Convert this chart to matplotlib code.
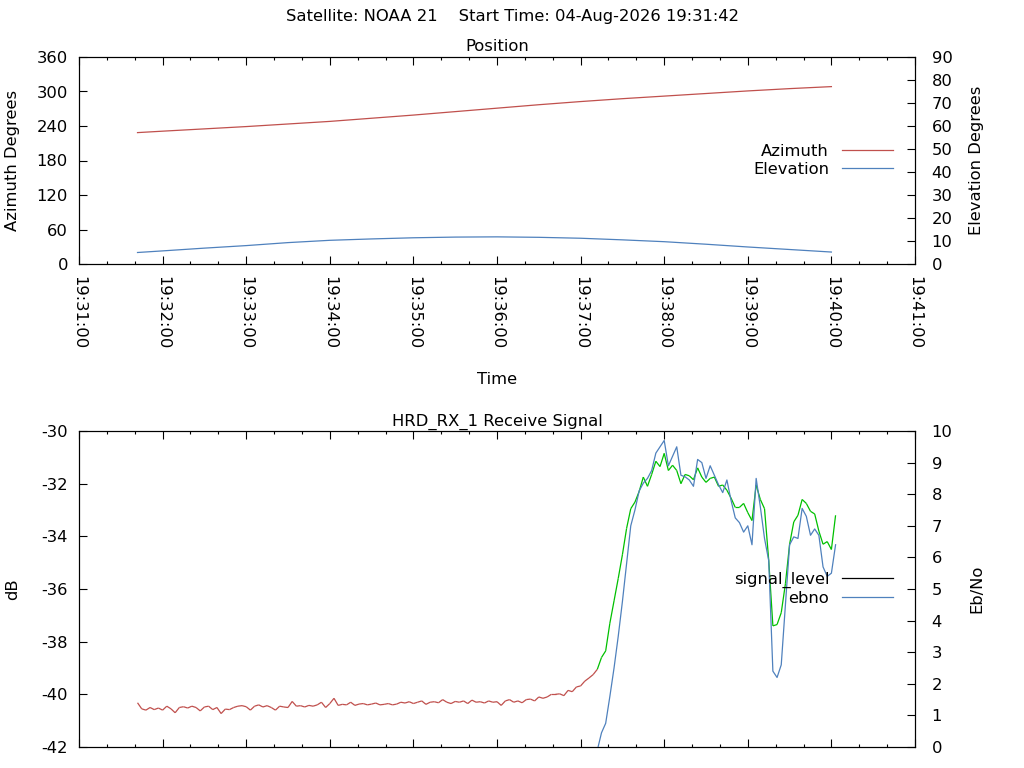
import numpy as np
import matplotlib.pyplot as plt
from matplotlib.collections import LineCollection
from matplotlib.lines import Line2D
from matplotlib.ticker import MultipleLocator, FuncFormatter

plt.rcParams['font.family'] = 'DejaVu Sans'
plt.rcParams['font.size'] = 11.8
plt.rcParams['axes.titlesize'] = 11.8
plt.rcParams['axes.unicode_minus'] = False

satellite = "NOAA 21"
start_time = "04-Aug-2026 19:31:42"
receiver = "HRD_RX_1"

RED = "#c0504d"
BLUE = "#4f81bd"
GREEN = "#00c000"

# time axis: seconds after 19:31:00
t_min, t_max = 0, 600

## Position (azimuth on y1, elevation on y2)
pos_t = [42, 60, 90, 120, 150, 180, 210, 240, 270, 300, 330, 360, 390, 420, 450, 480, 510, 540]
azimuth = [228.5, 231, 235, 239, 243.5, 248, 253.5, 259, 265, 271, 277, 282.5, 287.5, 292,
           296.5, 301, 305, 308.5]
elevation = [5.0, 5.7, 6.9, 8.0, 9.3, 10.3, 10.9, 11.4, 11.7, 11.8, 11.6, 11.2, 10.5, 9.7,
             8.6, 7.4, 6.3, 5.2]

## Receive signal, one sample every 3 s starting 19:31:42
sig_t0, sig_dt = 42, 3
signal_level = [
    -40.32, -40.55, -40.60, -40.50, -40.58, -40.52, -40.60, -40.45, -40.55, -40.70,
    -40.50, -40.47, -40.52, -40.45, -40.50, -40.63, -40.48, -40.45, -40.58, -40.50,
    -40.73, -40.56, -40.58, -40.50, -40.45, -40.43, -40.47, -40.60, -40.45, -40.40,
    -40.48, -40.43, -40.50, -40.60, -40.45, -40.48, -40.50, -40.27, -40.45, -40.43,
    -40.48, -40.42, -40.45, -40.40, -40.30, -40.50, -40.35, -40.15, -40.42, -40.38,
    -40.40, -40.30, -40.42, -40.37, -40.35, -40.40, -40.37, -40.33, -40.40, -40.38,
    -40.35, -40.40, -40.37, -40.30, -40.33, -40.28, -40.35, -40.30, -40.25, -40.38,
    -40.30, -40.28, -40.32, -40.20, -40.30, -40.35, -40.27, -40.30, -40.25, -40.35,
    -40.22, -40.30, -40.28, -40.33, -40.25, -40.30, -40.28, -40.42, -40.25, -40.20,
    -40.30, -40.25, -40.32, -40.20, -40.18, -40.25, -40.10, -40.15, -40.10, -40.00,
    -40.00, -39.98, -40.05, -39.85, -39.90, -39.72, -39.68, -39.50, -39.38, -39.25,
    -39.05, -38.60, -38.35, -37.30, -36.45, -35.60, -34.70, -33.70, -32.95, -32.70,
    -32.30, -31.75, -32.10, -31.65, -31.15, -31.35, -30.85, -31.50, -31.30, -31.50,
    -32.00, -31.65, -31.70, -31.85, -31.40, -31.75, -31.95, -31.80, -31.75, -32.10,
    -32.05, -32.25, -32.55, -32.90, -32.90, -32.75, -33.10, -33.40, -32.05, -32.60,
    -32.95, -34.90, -37.40, -37.35, -36.90, -35.80, -34.30, -33.45, -33.20, -32.60,
    -32.75, -33.05, -33.15, -33.80, -34.30, -34.20, -34.50, -33.20,
]
ebno = [np.nan] * 109 + [
    -0.6, -0.1, 0.45, 0.75, 1.6, 2.5, 3.5, 4.6, 5.8, 7.0,
    7.5, 8.1, 8.35, 8.5, 8.75, 9.3, 9.5, 9.7, 8.9, 9.2,
    9.5, 8.6, 8.55, 8.45, 8.25, 9.1, 9.0, 8.5, 8.9, 8.6,
    8.3, 8.05, 8.45, 7.8, 7.25, 7.1, 6.8, 7.0, 6.4, 8.5,
    7.6, 6.6, 5.9, 2.4, 2.2, 2.6, 4.5, 6.4, 6.65, 6.6,
    7.55, 7.3, 6.7, 6.9, 6.7, 5.7, 5.4, 5.5, 6.4,
]
good_signal = -39.0  # above this the signal line is drawn green

sig_t = sig_t0 + sig_dt * np.arange(len(signal_level))
sig = np.array(signal_level)


def hms(s, pos):
    m, sec = divmod(int(round(s)), 60)
    return f"19:{31 + m:02d}:{sec:02d}"


def style_time_axis(ax, labels=True):
    ax.set_xlim(t_min, t_max)
    ax.xaxis.set_major_locator(MultipleLocator(60))
    ax.xaxis.set_minor_locator(MultipleLocator(20))
    ax.xaxis.set_major_formatter(FuncFormatter(hms))
    ax.tick_params(axis='x', which='both', direction='in', top=True, bottom=True,
                   labelbottom=labels, labelrotation=270, pad=9)
    ax.tick_params(axis='x', which='major', length=5.5, width=0.8)
    ax.tick_params(axis='x', which='minor', length=2.5, width=0.8)
    ax.tick_params(axis='y', direction='in', length=5.5, width=0.8, pad=8, right=False)
    for sp in ax.spines.values():
        sp.set_linewidth(0.8)


fig = plt.figure(figsize=(10.24, 7.68), dpi=100)
fig.text(513 / 1024, 1 - 17 / 768,
         f"Satellite: {satellite}    Start Time: {start_time}", ha='center', va='center')

### top: position
ax = fig.add_axes([79 / 1024, 1 - 264 / 768, 836 / 1024, 207 / 768])
ax2 = ax.twinx()
ax.plot(pos_t, azimuth, color=RED, lw=0.9)
ax2.plot(pos_t, elevation, color=BLUE, lw=0.9)
style_time_axis(ax)
ax.set_ylim(0, 360)
ax.yaxis.set_major_locator(MultipleLocator(60))
ax2.set_ylim(0, 90)
ax2.yaxis.set_major_locator(MultipleLocator(10))
ax2.tick_params(axis='y', direction='in', length=5.5, width=0.8, pad=12)
ax.set_title("Position", pad=4)
ax.set_ylabel("Azimuth Degrees")
ax.yaxis.set_label_coords((20 - 79) / 836, 0.5)
ax2.set_ylabel("Elevation Degrees")
ax2.yaxis.set_label_coords((969 - 79) / 836, 0.5)
ax.set_xlabel("Time")
ax.xaxis.set_label_coords(0.5, (264 - 372) / 207)
ax2.legend([Line2D([], [], color=RED, lw=0.9), Line2D([], [], color=BLUE, lw=0.9)],
           ["Azimuth", "Elevation"], loc='upper right', bbox_to_anchor=(0.9737, 0.58),
           frameon=False, markerfirst=False, handlelength=3.1, handletextpad=0.8,
           labelspacing=0.2, borderpad=0, borderaxespad=0)

### bottom: receive signal
bx = fig.add_axes([79 / 1024, 1 - 747 / 768, 836 / 1024, 316 / 768])
bx2 = bx.twinx()
pts = np.column_stack([sig_t, sig])
segs = np.stack([pts[:-1], pts[1:]], axis=1)
seg_colors = np.where(np.maximum(sig[:-1], sig[1:]) > good_signal, GREEN, RED)
bx.add_collection(LineCollection(segs, colors=seg_colors, linewidths=0.9))
bx2.plot(sig_t, ebno, color=BLUE, lw=0.9)
style_time_axis(bx, labels=False)
bx.set_ylim(-42, -30)
bx.yaxis.set_major_locator(MultipleLocator(2))
bx2.set_ylim(0, 10)
bx2.yaxis.set_major_locator(MultipleLocator(1))
bx2.tick_params(axis='y', direction='in', length=5.5, width=0.8, pad=12)
bx.set_title(f"{receiver} Receive Signal", pad=4)
bx.set_ylabel("dB")
bx.yaxis.set_label_coords((20 - 79) / 836, 0.5)
bx2.set_ylabel("Eb/No")
bx2.yaxis.set_label_coords((969 - 79) / 836, 0.5)
bx2.legend([Line2D([], [], color='black', lw=0.9), Line2D([], [], color=BLUE, lw=0.9)],
           ["signal_level", "ebno"], loc='upper right', bbox_to_anchor=(0.9737, 0.555),
           frameon=False, markerfirst=False, handlelength=3.1, handletextpad=0.8,
           labelspacing=0.2, borderpad=0, borderaxespad=0)

fig.savefig("out.png", dpi=100)
